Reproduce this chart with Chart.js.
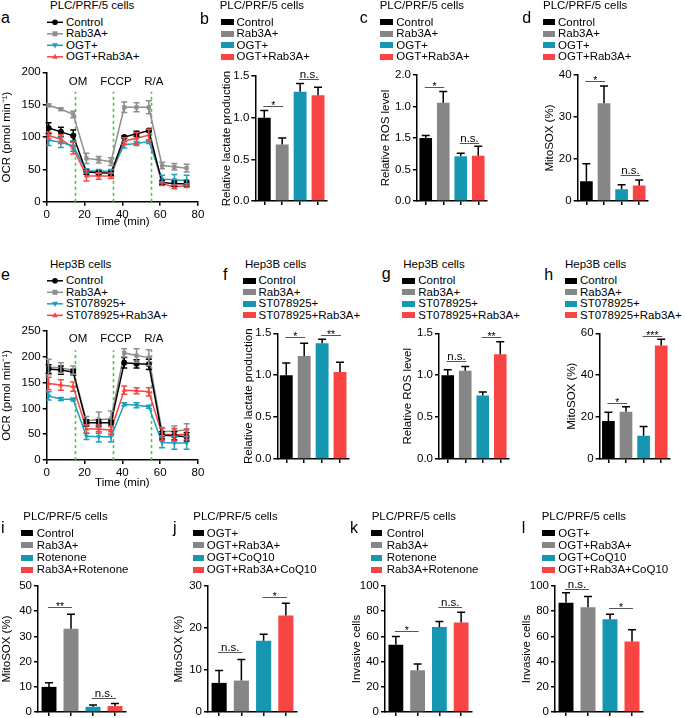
<!DOCTYPE html>
<html>
<head>
<meta charset="utf-8">
<script src="https://cdn.jsdelivr.net/npm/chart.js@4.4.0/dist/chart.umd.min.js"></script>
<style>
  body { margin: 0; background: #fff; }
  #fig { position: relative; width: 685px; height: 718px; overflow: hidden; background: #fff;
         font-family: "Liberation Sans", Arial, Helvetica, sans-serif; color: #000; }
  .abs { position: absolute; white-space: nowrap; font-weight: normal; }
  canvas { position: absolute; }
</style>
</head>
<body>
<div id="fig"></div>
<script>
// ---------- data ----------
const groupsPLC = ["Control", "Rab3A+", "OGT+", "OGT+Rab3A+"];
const groupsHep = ["Control", "Rab3A+", "ST078925+", "ST078925+Rab3A+"];
const groupsRot = ["Control", "Rab3A+", "Rotenone", "Rab3A+Rotenone"];
const groupsCoQ = ["OGT+", "OGT+Rab3A+", "OGT+CoQ10", "OGT+Rab3A+CoQ10"];

// OCR time course
const timeMin = [1, 7.5, 14, 21, 27.5, 34, 41, 47.5, 54, 61, 67.5, 74];
const timeTicks = [0, 20, 40, 60, 80];
const timeTickLabels = ["0", "20", "40", "60", "80"];
const injectTimes = [15, 35, 55];
const injectNames = ["OM", "FCCP", "R/A"];

// a: PLC/PRF/5 OCR
const ocrPlcControl = [114, 108, 102, 46, 45, 44, 100, 105, 110, 30, 28, 28];
const ocrPlcRab3a = [149, 143, 135, 67, 65, 62, 146, 146, 146, 56, 54, 52];
const ocrPlcOgt = [95, 92, 86, 48, 47, 47, 88, 90, 93, 35, 34, 33];
const ocrPlcOgtRab3a = [102, 97, 83, 40, 40, 40, 94, 98, 103, 28, 23, 25];
const ocrPlcControlErr = [8, 7, 9, 4, 3, 3, 2, 4, 2, 3, 4, 4];
const ocrPlcRab3aErr = [2, 2, 5, 8, 5, 6, 8, 7, 10, 5, 5, 6];
const ocrPlcOgtErr = [8, 8, 8, 3, 3, 3, 5, 3, 3, 6, 8, 8];
const ocrPlcOgtRab3aErr = [5, 7, 9, 8, 5, 4, 5, 9, 9, 3, 3, 3];
const ticksA = [0, 50, 100, 150, 200];
const tickLabelsA = ["0", "50", "100", "150", "200"];

// e: Hep3B OCR
const ocrHepControl = [176, 174, 170, 72, 72, 72, 188, 186, 185, 48, 47, 45];
const ocrHepRab3a = [180, 178, 174, 76, 78, 80, 207, 202, 198, 55, 56, 58];
const ocrHepSt = [124, 118, 117, 46, 45, 45, 108, 106, 103, 34, 33, 33];
const ocrHepStRab3a = [148, 145, 142, 60, 60, 58, 135, 134, 132, 50, 49, 50];
const ocrHepControlErr = [8, 8, 5, 6, 6, 5, 10, 8, 10, 7, 8, 8];
const ocrHepRab3aErr = [15, 10, 8, 8, 15, 15, 8, 13, 15, 8, 10, 12];
const ocrHepStErr = [8, 3, 3, 6, 10, 10, 3, 5, 3, 10, 12, 12];
const ocrHepStRab3aErr = [12, 10, 9, 8, 8, 8, 8, 6, 8, 12, 12, 10];
const ticksE = [0, 50, 100, 150, 200, 250];
const tickLabelsE = ["0", "50", "100", "150", "200", "250"];

// b: lactate PLC
const lactatePlc = [1.0, 0.68, 1.31, 1.27];
const lactatePlcErr = [0.086, 0.076, 0.10, 0.095];
const ticksB = [0, 0.5, 1.0, 1.5];
const tickLabelsB = ["0.0", "0.5", "1.0", "1.5"];
// c: ROS PLC (tick labels as printed in the figure)
const rosPlc = [1.0, 1.56, 0.71, 0.72];
const rosPlcErr = [0.04, 0.18, 0.05, 0.15];
const ticksC = [0, 0.5, 1.0, 1.5, 2.0];
const tickLabelsC = ["0.0", "0.5", "1.5", "1.0", "2.0"];
// d: MitoSOX PLC (tick labels as printed in the figure)
const mitoPlc = [14.7, 33.3, 12.8, 13.7];
const mitoPlcErr = [4.2, 4.1, 1.1, 1.3];
const ticksD = [10, 20, 30, 40];
const tickLabelsD = ["0", "20", "30", "40"];
// f: lactate Hep3B
const lactateHep = [1.0, 1.23, 1.38, 1.04];
const lactateHepErr = [0.145, 0.15, 0.05, 0.115];
// g: ROS Hep3B
const rosHep = [1.0, 1.054, 0.758, 1.25];
const rosHepErr = [0.066, 0.05, 0.043, 0.15];
// h: MitoSOX Hep3B
const mitoHep = [18.2, 22.6, 11.1, 54.2];
const mitoHepErr = [4.2, 2.4, 4.4, 3.0];
const ticksH = [0, 20, 40, 60];
const tickLabelsH = ["0", "20", "40", "60"];
// i: MitoSOX rotenone
const mitoRot = [10.0, 33.0, 2.1, 2.4];
const mitoRotErr = [1.6, 5.8, 0.7, 1.0];
const ticksI = [0, 10, 20, 30, 40, 50];
const tickLabelsI = ["0", "10", "20", "30", "40", "50"];
// j: MitoSOX CoQ10
const mitoCoq = [6.95, 7.5, 17.0, 23.0];
const mitoCoqErr = [2.95, 5.0, 1.5, 2.9];
const ticksJ = [0, 10, 20, 30];
const tickLabelsJ = ["0", "10", "20", "30"];
// k: invasion rotenone
const invasionRot = [53.4, 33.2, 67.4, 71.0];
const invasionRotErr = [6.6, 5.0, 4.4, 8.2];
// l: invasion CoQ10
const invasionCoq = [86.8, 83.2, 73.7, 56.0];
const invasionCoqErr = [7.9, 8.4, 3.9, 9.3];
const ticksK = [0, 20, 40, 60, 80, 100];
const tickLabelsK = ["0", "20", "40", "60", "80", "100"];

// significance brackets: groups compared, bracket height (axis units), label
const sigB = [{ from: 0, to: 1, y: 1.14, text: "*" }, { from: 2, to: 3, y: 1.46, text: "n.s." }];
const sigC = [{ from: 0, to: 1, y: 1.81, text: "*" }, { from: 2, to: 3, y: 0.92, text: "n.s." }];
const sigD = [{ from: 0, to: 1, y: 38.6, text: "*" }, { from: 2, to: 3, y: 16.3, text: "n.s." }];
const sigF = [{ from: 0, to: 1, y: 1.45, text: "*" }, { from: 2, to: 3, y: 1.485, text: "**" }];
const sigG = [{ from: 0, to: 1, y: 1.168, text: "n.s." }, { from: 2, to: 3, y: 1.45, text: "**" }];
const sigH = [{ from: 0, to: 1, y: 26.8, text: "*" }, { from: 2, to: 3, y: 58.5, text: "***" }];
const sigI = [{ from: 0, to: 1, y: 41.8, text: "**" }, { from: 2, to: 3, y: 5.7, text: "n.s." }];
const sigJ = [{ from: 0, to: 1, y: 14.2, text: "n.s." }, { from: 2, to: 3, y: 27.5, text: "*" }];
const sigK = [{ from: 0, to: 1, y: 64.5, text: "*" }, { from: 2, to: 3, y: 83.7, text: "n.s." }];
const sigL = [{ from: 0, to: 1, y: 97.9, text: "n.s." }, { from: 2, to: 3, y: 82.9, text: "*" }];

// ---------- style ----------
const FONT = '"Liberation Sans", Arial, Helvetica, sans-serif';
const FS = 11.5;
const barColors = ["#000000", "#868686", "#1597b2", "#f94444"];
const lineColors = ["#000000", "#8e8e8e", "#1ba0bd", "#f74545"];
const markers = [["circle", 0], ["rect", 0], ["triangle", 180], ["triangle", 0]];

Chart.defaults.font.family = FONT;
Chart.defaults.font.size = FS;
Chart.defaults.color = "#000";

const fig = document.getElementById("fig");

function addText(x, base, str, size) {
  const d = document.createElement("div");
  d.className = "abs";
  d.textContent = str;
  d.style.fontSize = size + "px";
  d.style.lineHeight = size + "px";
  d.style.left = x + "px";
  d.style.top = (base - 0.8465 * size) + "px";
  fig.appendChild(d);
}

function makeCanvas(left, top, w, h) {
  const c = document.createElement("canvas");
  c.width = w; c.height = h;
  c.style.left = left + "px"; c.style.top = top + "px";
  c.style.width = w + "px"; c.style.height = h + "px";
  fig.appendChild(c);
  return c;
}

function drawMarker(ctx, style, rot, x, y, r) {
  ctx.beginPath();
  if (style === "circle") {
    ctx.arc(x, y, r, 0, Math.PI * 2);
  } else if (style === "rect") {
    ctx.rect(x - r * 0.9, y - r * 0.9, r * 1.8, r * 1.8);
  } else {
    const s = rot === 180 ? -1 : 1;
    ctx.moveTo(x, y - s * r * 1.1);
    ctx.lineTo(x - r * 1.05, y + s * r * 0.7);
    ctx.lineTo(x + r * 1.05, y + s * r * 0.7);
    ctx.closePath();
  }
  ctx.fill();
}

// ---------- plugins ----------
const errorBars = {
  id: "errorBars",
  afterDatasetsDraw(chart) {
    const ctx = chart.ctx, y = chart.scales.y;
    chart.data.datasets.forEach((ds, di) => {
      if (!ds.errors) return;
      const meta = chart.getDatasetMeta(di);
      meta.data.forEach((el, i) => {
        const raw = ds.data[i];
        const v = typeof raw === "object" ? raw.y : raw;
        const e = ds.errors[i];
        const hi = y.getPixelForValue(v + e);
        const lo = ds.bothSides ? y.getPixelForValue(v - e) : el.y;
        const cap = ds.capHalf;
        ctx.save();
        ctx.strokeStyle = ds.errorColor;
        ctx.lineWidth = 1.5;
        ctx.beginPath();
        ctx.moveTo(el.x, lo); ctx.lineTo(el.x, hi);
        ctx.moveTo(el.x - cap, hi); ctx.lineTo(el.x + cap, hi);
        if (ds.bothSides) { ctx.moveTo(el.x - cap, lo); ctx.lineTo(el.x + cap, lo); }
        ctx.stroke();
        ctx.restore();
      });
    });
  }
};

const sigPlugin = {
  id: "sig",
  afterDatasetsDraw(chart, args, opts) {
    const ctx = chart.ctx, x = chart.scales.x, y = chart.scales.y;
    (opts.items || []).forEach(s => {
      const x1 = x.getPixelForValue(s.from) - 1, x2 = x.getPixelForValue(s.to) + 1;
      const yy = Math.round(y.getPixelForValue(s.y)) + 0.5;
      ctx.save();
      ctx.strokeStyle = "#555";
      ctx.lineWidth = 1;
      ctx.beginPath(); ctx.moveTo(x1, yy); ctx.lineTo(x2, yy); ctx.stroke();
      ctx.fillStyle = "#000";
      ctx.textAlign = "center";
      ctx.textBaseline = "alphabetic";
      const star = s.text.indexOf("*") >= 0;
      ctx.font = (star ? 10.5 : FS) + "px " + FONT;
      ctx.fillText(s.text, (x1 + x2) / 2, star ? yy + 2.5 : yy - 2);
      ctx.restore();
    });
  }
};

const injectPlugin = {
  id: "inject",
  beforeDatasetsDraw(chart, args, opts) {
    if (!opts.times) return;
    const ctx = chart.ctx, x = chart.scales.x, y = chart.scales.y;
    ctx.save();
    ctx.strokeStyle = "#3ccc3c";
    ctx.lineWidth = 1.6;
    ctx.setLineDash([3, 3]);
    opts.times.forEach(t => {
      const px = Math.round(x.getPixelForValue(t)) + 0.5;
      ctx.beginPath();
      ctx.moveTo(px, y.getPixelForValue(0));
      ctx.lineTo(px, y.getPixelForValue(opts.top));
      ctx.stroke();
    });
    ctx.setLineDash([]);
    ctx.fillStyle = "#000";
    ctx.font = FS + "px " + FONT;
    ctx.textAlign = "center";
    ctx.textBaseline = "middle";
    opts.times.forEach((t, i) => {
      ctx.fillText(opts.names[i], x.getPixelForValue(t) + 3, y.getPixelForValue(opts.labelAt));
    });
    ctx.restore();
  }
};

// ---------- shared scale pieces ----------
const axisGrid = { display: true, drawOnChartArea: false, drawTicks: true, tickLength: 4, color: "#000", lineWidth: 1.5 };
const axisBorder = { display: true, color: "#000", width: 1.5 };

function yScale(p, left) {
  return {
    type: "linear",
    min: p.ticks[0], max: p.ticks[p.ticks.length - 1],
    afterBuildTicks(s) { s.ticks = p.ticks.map(v => ({ value: v })); },
    ticks: { callback: (v, i) => p.tickLabels[i], padding: 2, color: "#000", font: { size: FS } },
    grid: axisGrid,
    border: axisBorder,
    title: { display: true, text: p.yTitle, padding: 0, color: "#000", font: { size: FS } },
    afterFit(s) { s.width = p.axisX - left; }
  };
}

function headers(p) {
  addText(p.letterX, p.letterY, p.letter, 16);
  addText(p.titleX, p.titleY, p.title, FS);
  p.groups.forEach((g, i) => addText(p.legTextX, p.legY + i * p.legDy, g, FS));
}

function barPanel(p) {
  headers(p);
  p.groups.forEach((g, i) => {
    const sw = document.createElement("div");
    sw.className = "abs";
    sw.style.left = p.swX + "px";
    sw.style.top = (p.legY + i * p.legDy - 7.2) + "px";
    sw.style.width = p.swW + "px";
    sw.style.height = "6px";
    sw.style.background = barColors[i];
    fig.appendChild(sw);
  });
  const left = Math.round(p.yTitleX - 6.9), padTop = 18, padRight = 6, H = 8;
  const top = Math.round(p.top - padTop);
  const w = Math.round(p.right - left + padRight);
  const h = Math.round(p.zero + H - top);
  const cv = makeCanvas(left, top, w, h);
  new Chart(cv, {
    type: "bar",
    data: {
      labels: p.groups,
      datasets: [{
        data: p.values, errors: p.errors, errorColor: "#000", capHalf: 4,
        backgroundColor: barColors, borderWidth: 0,
        barPercentage: p.barPct, categoryPercentage: 1, base: p.ticks[0]
      }]
    },
    options: {
      responsive: false, animation: false, devicePixelRatio: 1,
      layout: { padding: { top: p.top - top, right: padRight, left: 0, bottom: 0 } },
      plugins: { legend: { display: false }, tooltip: { enabled: false }, sig: { items: p.sig } },
      scales: {
        x: {
          offset: true,
          ticks: { display: false },
          grid: Object.assign({}, axisGrid, { offset: false }),
          border: axisBorder,
          afterFit(s) { s.height = H; }
        },
        y: yScale(p, left)
      }
    },
    plugins: [errorBars, sigPlugin]
  });
}

function linePanel(p) {
  headers(p);
  const lc = makeCanvas(44, Math.round(p.legY - 14), 24, 56);
  const lctx = lc.getContext("2d");
  p.groups.forEach((g, i) => {
    const cy = p.legY - Math.round(p.legY - 14) + i * p.legDy - 4.2;
    lctx.strokeStyle = lineColors[i];
    lctx.fillStyle = lineColors[i];
    lctx.lineWidth = 1.5;
    lctx.beginPath(); lctx.moveTo(3, cy); lctx.lineTo(19, cy); lctx.stroke();
    drawMarker(lctx, markers[i][0], markers[i][1], 11, cy, 2.8);
  });
  const left = Math.round(p.yTitleX - 6.9), padTop = 18, padRight = 10;
  const top = Math.round(p.top - padTop);
  const H = p.xTitleY + 6.9 - p.zero;
  const w = Math.round(p.right - left + padRight);
  const h = Math.round(p.zero + H - top);
  const cv = makeCanvas(left, top, w, h);
  new Chart(cv, {
    type: "line",
    data: {
      datasets: p.series.map((vals, k) => ({
        label: p.groups[k],
        data: timeMin.map((t, i) => ({ x: t, y: vals[i] })),
        errors: p.errs[k], bothSides: true, errorColor: lineColors[k], capHalf: 3,
        borderColor: lineColors[k], backgroundColor: lineColors[k], borderWidth: 1.5,
        pointStyle: markers[k][0], pointRotation: markers[k][1], pointRadius: 3, pointBorderWidth: 0,
        tension: 0
      }))
    },
    options: {
      responsive: false, animation: false, devicePixelRatio: 1,
      layout: { padding: { top: p.top - top, right: padRight, left: 0, bottom: 0 } },
      plugins: {
        legend: { display: false }, tooltip: { enabled: false },
        inject: { times: injectTimes, names: injectNames, top: p.injectTop, labelAt: p.injectLabel }
      },
      scales: {
        x: {
          type: "linear", min: 0, max: 80,
          afterBuildTicks(s) { s.ticks = timeTicks.map(v => ({ value: v })); },
          ticks: { callback: (v, i) => timeTickLabels[i], padding: 2, maxRotation: 0, color: "#000", font: { size: FS } },
          grid: axisGrid,
          border: axisBorder,
          title: { display: true, text: "Time (min)", padding: 0, color: "#000", font: { size: FS } },
          afterFit(s) { s.height = H; }
        },
        y: yScale(p, left)
      }
    },
    plugins: [injectPlugin, errorBars]
  });
}

// ---------- panels ----------
const row1 = { titleY: 10, legY: 26.5, legDy: 11.5, zero: 201.7 };
const row2 = { titleY: 268.3, legY: 285, legDy: 11.5, zero: 460 };
const row3 = { titleY: 520.7, legY: 537.3, legDy: 12.3, zero: 712.7 };

linePanel(Object.assign({}, row1, {
  letter: "a", letterX: 1, letterY: 24, title: "PLC/PRF/5 cells", titleX: 50, legTextX: 66,
  groups: groupsPLC,
  series: [ocrPlcControl, ocrPlcRab3a, ocrPlcOgt, ocrPlcOgtRab3a],
  errs: [ocrPlcControlErr, ocrPlcRab3aErr, ocrPlcOgtErr, ocrPlcOgtRab3aErr],
  ticks: ticksA, tickLabels: tickLabelsA, yTitle: "OCR (pmol min\u207B\u00B9)",
  axisX: 46.7, top: 72.3, right: 197.5, yTitleX: 7, xTitleY: 222, injectTop: 170, injectLabel: 185
}));
linePanel(Object.assign({}, row2, {
  letter: "e", letterX: 1, letterY: 280.5, title: "Hep3B cells", titleX: 50, legTextX: 66,
  groups: groupsHep,
  series: [ocrHepControl, ocrHepRab3a, ocrHepSt, ocrHepStRab3a],
  errs: [ocrHepControlErr, ocrHepRab3aErr, ocrHepStErr, ocrHepStRab3aErr],
  ticks: ticksE, tickLabels: tickLabelsE, yTitle: "OCR (pmol min\u207B\u00B9)",
  axisX: 46.7, top: 330.7, right: 197.5, yTitleX: 7, xTitleY: 483, injectTop: 212, injectLabel: 234
}));

// row 1 bar panels sit about 22 px further left than row 2
const colB1 = { axisX: 255.3, right: 326.5, yTitleX: 227.3, swX: 221, swW: 13, legTextX: 236.5, barPct: 0.72 };
const colC1 = { axisX: 417, right: 486.6, yTitleX: 386.3, swX: 380, swW: 13, legTextX: 396.3, barPct: 0.72 };
const colD1 = { axisX: 577.6, right: 647.6, yTitleX: 549.7, swX: 542.5, swW: 12.5, legTextX: 558, barPct: 0.72 };
const colB2 = { axisX: 277.3, right: 348.5, yTitleX: 249.3, swX: 243, swW: 13, legTextX: 258.5, barPct: 0.72 };
const colC2 = { axisX: 439, right: 508.6, yTitleX: 408.3, swX: 402, swW: 13, legTextX: 418.3, barPct: 0.72 };
const colD2 = { axisX: 599.6, right: 669.6, yTitleX: 571.7, swX: 564.5, swW: 12.5, legTextX: 580, barPct: 0.72 };

barPanel(Object.assign({}, row1, colB1, {
  letter: "b", letterX: 200, letterY: 24.5, title: "PLC/PRF/5 cells", titleX: 219.7,
  groups: groupsPLC, values: lactatePlc, errors: lactatePlcErr, sig: sigB,
  ticks: ticksB, tickLabels: tickLabelsB, yTitle: "Relative lactate production", top: 76
}));
barPanel(Object.assign({}, row1, colC1, {
  letter: "c", letterX: 359.7, letterY: 24, title: "PLC/PRF/5 cells", titleX: 379.7,
  groups: groupsPLC, values: rosPlc, errors: rosPlcErr, sig: sigC,
  ticks: ticksC, tickLabels: tickLabelsC, yTitle: "Relative ROS level", top: 75
}));
barPanel(Object.assign({}, row1, colD1, {
  letter: "d", letterX: 522.3, letterY: 24, title: "PLC/PRF/5 cells", titleX: 543,
  groups: groupsPLC, values: mitoPlc, errors: mitoPlcErr, sig: sigD,
  ticks: ticksD, tickLabels: tickLabelsD, yTitle: "MitoSOX (%)", top: 75
}));

barPanel(Object.assign({}, row2, colB2, {
  letter: "f", letterX: 223, letterY: 281, title: "Hep3B cells", titleX: 245,
  groups: groupsHep, values: lactateHep, errors: lactateHepErr, sig: sigF,
  ticks: ticksB, tickLabels: tickLabelsB, yTitle: "Relative lactate production", top: 333.3
}));
barPanel(Object.assign({}, row2, colC2, {
  letter: "g", letterX: 381.7, letterY: 280, title: "Hep3B cells", titleX: 403.3,
  groups: groupsHep, values: rosHep, errors: rosHepErr, sig: sigG,
  ticks: ticksB, tickLabels: tickLabelsB, yTitle: "Relative ROS level", top: 333.3
}));
barPanel(Object.assign({}, row2, colD2, {
  letter: "h", letterX: 544.3, letterY: 280.5, title: "Hep3B cells", titleX: 565,
  groups: groupsHep, values: mitoHep, errors: mitoHepErr, sig: sigH,
  ticks: ticksH, tickLabels: tickLabelsH, yTitle: "MitoSOX (%)", top: 333.3
}));

barPanel(Object.assign({}, row3, {
  letter: "i", letterX: 1, letterY: 533.3, title: "PLC/PRF/5 cells", titleX: 23.3,
  swX: 21, swW: 12, legTextX: 36.7, barPct: 0.68,
  groups: groupsRot, values: mitoRot, errors: mitoRotErr, sig: sigI,
  ticks: ticksI, tickLabels: tickLabelsI, yTitle: "MitoSOX (%)",
  axisX: 38, top: 586, right: 125.6, yTitleX: 6.7
}));
barPanel(Object.assign({}, row3, {
  letter: "j", letterX: 173, letterY: 533.3, title: "PLC/PRF/5 cells", titleX: 193.3,
  swX: 192.7, swW: 11, legTextX: 206.7, barPct: 0.68,
  groups: groupsCoQ, values: mitoCoq, errors: mitoCoqErr, sig: sigJ,
  ticks: ticksJ, tickLabels: tickLabelsJ, yTitle: "MitoSOX (%)",
  axisX: 208, top: 586, right: 296.8, yTitleX: 179.3
}));
barPanel(Object.assign({}, row3, {
  letter: "k", letterX: 350, letterY: 533.3, title: "PLC/PRF/5 cells", titleX: 371.7,
  swX: 370.7, swW: 11.5, legTextX: 386.7, barPct: 0.68,
  groups: groupsRot, values: invasionRot, errors: invasionRotErr, sig: sigK,
  ticks: ticksK, tickLabels: tickLabelsK, yTitle: "Invasive cells",
  axisX: 385, top: 586, right: 472, yTitleX: 356.7
}));
barPanel(Object.assign({}, row3, {
  letter: "l", letterX: 521.7, letterY: 533.3, title: "PLC/PRF/5 cells", titleX: 541.7,
  swX: 541.7, swW: 13, legTextX: 558.3, barPct: 0.68,
  groups: groupsCoQ, values: invasionCoq, errors: invasionCoqErr, sig: sigL,
  ticks: ticksK, tickLabels: tickLabelsK, yTitle: "Invasive cells",
  axisX: 555, top: 586, right: 643, yTitleX: 526.7
}));
</script>
</body>
</html>
